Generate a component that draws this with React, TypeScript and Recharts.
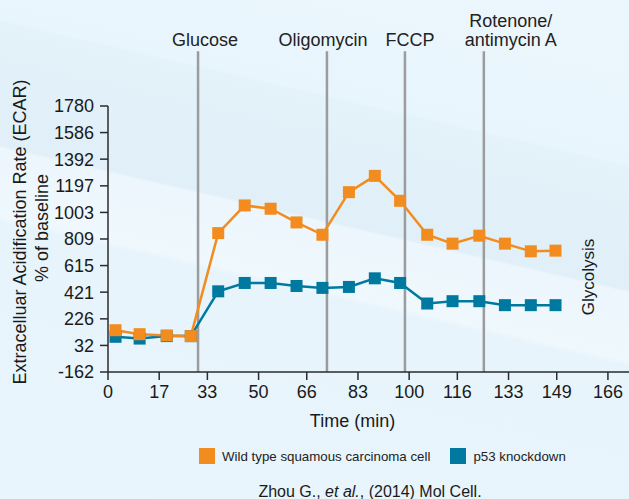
import { LineChart, Line, XAxis, YAxis, ReferenceLine, Legend } from 'recharts';

const times = [2.5, 10.5, 19.5, 27.5, 36.6, 45.4, 54, 62.6, 71.2, 80, 88.6, 97, 106, 114.4, 123.3, 131.8, 140.4, 148.6];
const wildType = [143, 114, 105, 100, 852, 1054, 1030, 930, 840, 1151, 1270, 1088, 840, 775, 833, 775, 719, 724];
const p53Knockdown = [95, 82, 100, 100, 427, 488, 488, 466, 452, 459, 522, 488, 338, 355, 355, 326, 326, 326];

const xTicks = [0, 17, 33, 50, 66, 83, 100, 116, 133, 149, 166];
const yTicks = [-162, 32, 226, 421, 615, 809, 1003, 1197, 1392, 1586, 1780];

const treatments = ['Glucose', 'Oligomycin', 'FCCP', 'Rotenone/\nantimycin A'];
const treatmentTimes = [29.9, 72.7, 98.6, 124.8];

const ORANGE = '#f28c1e';
const BLUE = '#0079a1';
const FONT = "'Liberation Sans', Arial, Helvetica, sans-serif";

const data = times.map((t, i) => ({ time: t, wild: wildType[i], p53: p53Knockdown[i] }));

const squareDot = (color: string) => (props: any) => {
  const { cx, cy, index } = props;
  if (cx == null || cy == null) return <g key={index} />;
  return <rect key={index} x={cx - 6} y={cy - 6} width={12} height={12} fill={color} />;
};

function TreatmentLabel({ viewBox, text, dx }: any) {
  const x = viewBox.x + dx;
  const lines = text.split('\n');
  const lh = 19;
  const top = viewBox.y - 5 - (lines.length - 1) * lh;
  return (
    <text x={x} y={top} textAnchor="middle" fontSize={18} fill="#222" fontFamily={FONT}>
      {lines.map((l: string, i: number) => (
        <tspan key={i} x={x} dy={i === 0 ? 0 : lh}>
          {l}
        </tspan>
      ))}
    </text>
  );
}

function LegendContent({ payload }: any) {
  const order = ['wild', 'p53'];
  const items = [...(payload || [])].sort((a: any, b: any) => order.indexOf(a.dataKey) - order.indexOf(b.dataKey));
  return (
    <div style={{ display: 'flex', fontFamily: FONT, fontSize: 13.3, color: '#222' }}>
      {items.map((p: any, i: number) => (
        <div key={i} style={{ display: 'flex', alignItems: 'flex-end', marginRight: i === 0 ? 20 : 0 }}>
          <span style={{ width: 16, height: 16, background: p.color, display: 'inline-block', marginRight: 7 }} />
          <span style={{ lineHeight: '14px' }}>{p.value}</span>
        </div>
      ))}
    </div>
  );
}

export default function App() {
  const nudge = [7, -4, 5, 27];
  return (
    <div
      style={{
        position: 'absolute',
        left: 0,
        top: 0,
        width: 629,
        height: 499,
        background:
          'linear-gradient(193deg, #ebf6fd 0%, #e9f5fc 25.5%, #e4f2fa 26%, #e0eff8 45%, #ecf6fc 45.5%, #eff8fd 56%, #e7f4fb 57%, #e8f5fc 100%)',
        fontFamily: FONT,
      }}
    >
      <LineChart width={629} height={499} data={data} margin={{ top: 106, right: 0, bottom: 97, left: 0 }}>
        <XAxis
          type="number"
          dataKey="time"
          domain={[0, 173]}
          ticks={xTicks}
          interval={0}
          height={30}
          tickSize={8}
          tickMargin={5}
          stroke="#2b2b2b"
          strokeWidth={1.5}
          tick={{ fill: '#1a1a1a', fontSize: 18, fontFamily: FONT }}
          label={{ value: 'Time (min)', position: 'bottom', offset: 12, dx: -16, fill: '#1a1a1a', fontSize: 18, fontFamily: FONT }}
        />
        <YAxis
          type="number"
          domain={[-162, 1780]}
          ticks={yTicks}
          interval={0}
          width={108}
          tickSize={8}
          tickMargin={6}
          stroke="#2b2b2b"
          strokeWidth={1.5}
          tick={{ fill: '#1a1a1a', fontSize: 18, fontFamily: FONT }}
        />
        {treatmentTimes.map((t, i) => (
          <ReferenceLine
            key={treatments[i]}
            segment={[
              { x: t, y: -162 },
              { x: t, y: 2180 },
            ]}
            ifOverflow="visible"
            stroke="#9a9c9e"
            strokeWidth={2.5}
            label={<TreatmentLabel text={treatments[i]} dx={nudge[i]} />}
          />
        ))}
        <Line
          dataKey="p53"
          name="p53 knockdown"
          stroke={BLUE}
          strokeWidth={2.5}
          dot={squareDot(BLUE)}
          activeDot={false}
          legendType="square"
          isAnimationActive={false}
        />
        <Line
          dataKey="wild"
          name="Wild type squamous carcinoma cell"
          stroke={ORANGE}
          strokeWidth={2.5}
          dot={squareDot(ORANGE)}
          activeDot={false}
          legendType="square"
          isAnimationActive={false}
        />
        <Legend
          verticalAlign="middle"
          align="center"
          content={<LegendContent />}
          wrapperStyle={{ position: 'absolute', top: 448, left: 199, width: 420 }}
        />
        <text transform="translate(26,232) rotate(-90)" textAnchor="middle" fontSize={18} fill="#1a1a1a" fontFamily={FONT}>
          Extracelluar Acidification Rate (ECAR)
        </text>
        <text transform="translate(48,228) rotate(-90)" textAnchor="middle" fontSize={18} fill="#1a1a1a" fontFamily={FONT}>
          % of baseline
        </text>
        <text transform="translate(594,277) rotate(-90)" textAnchor="middle" fontSize={17} fill="#1a1a1a" fontFamily={FONT}>
          Glycolysis
        </text>
        <text x={370} y={497} textAnchor="middle" fontSize={16} fill="#1a1a1a" fontFamily={FONT}>
          Zhou G., <tspan fontStyle="italic">et al.</tspan>, (2014) Mol Cell.
        </text>
      </LineChart>
    </div>
  );
}
